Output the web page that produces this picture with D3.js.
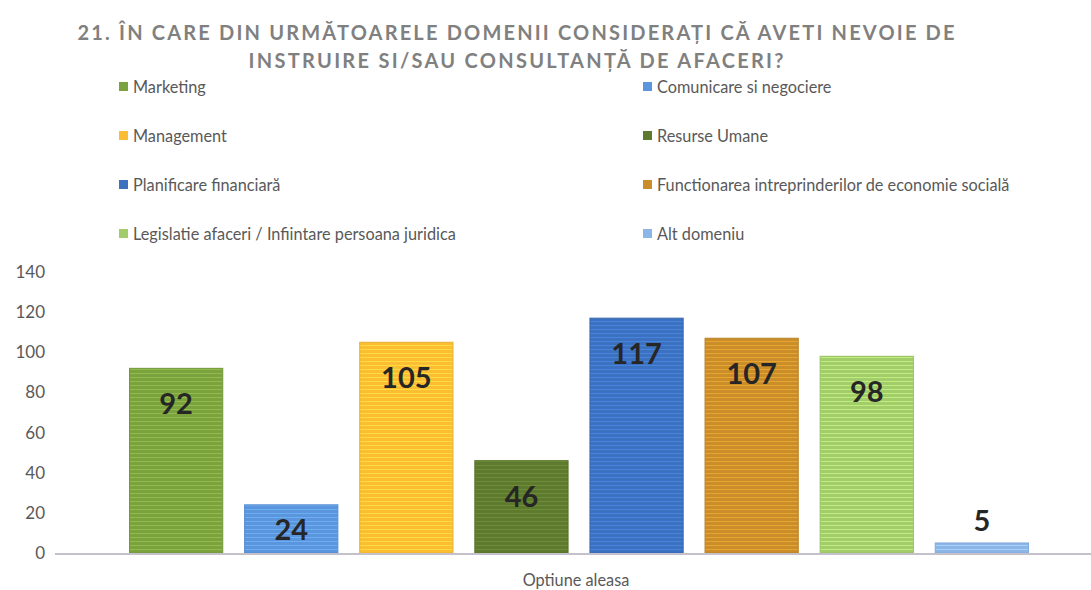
<!DOCTYPE html>
<html>
<head>
<meta charset="utf-8">
<script src="https://cdn.jsdelivr.net/npm/d3@7"></script>
<style>
  body { margin: 0; background: #fff; }
  #chart { width: 1091px; height: 590px; }
  text { font-family: Lato, "Noto Sans", sans-serif; }
</style>
</head>
<body>
<div id="chart"></div>
<script>
// Question 21 - training / consulting needs
const titleLines = [
    "21. ÎN CARE DIN URMĂTOARELE DOMENII CONSIDERAȚI CĂ AVETI NEVOIE DE",
    "INSTRUIRE SI/SAU CONSULTANȚĂ DE AFACERI?"
];
const categories = [
    "Marketing",
    "Comunicare si negociere",
    "Management",
    "Resurse Umane",
    "Planificare financiară",
    "Functionarea intreprinderilor de economie socială",
    "Legislatie afaceri / Infiintare persoana juridica",
    "Alt domeniu"
];
const values = [92, 24, 105, 46, 117, 107, 98, 5];
const colors = ["#7ba23f", "#5b95dc", "#fbbd34", "#5e7a2e", "#3c71bf", "#c98d2a", "#a3cd6a", "#8cb6e8"];
const yTicks = [0, 20, 40, 60, 80, 100, 120, 140];
const xTitle = "Optiune aleasa";

(() => {
    const W = 1091, H = 590;
    const svg = d3.select("#chart").append("svg").attr("width", W).attr("height", H);

    // striped fills, like the scanned original
    const defs = svg.append("defs");
    colors.forEach((c, i) => {
        const p = defs.append("pattern").attr("id", "pat" + i)
            .attr("patternUnits", "userSpaceOnUse").attr("width", 8).attr("height", 4);
        p.append("rect").attr("width", 8).attr("height", 4).attr("fill", c);
        p.append("rect").attr("y", 1).attr("width", 8).attr("height", 1)
            .attr("fill", d3.color(c).brighter(0.6)).attr("opacity", 0.7);
    });

    // title
    const tw = [877, 535];
    svg.append("g").selectAll("text")
        .data(titleLines)
        .join("text")
        .attr("x", 516)
        .attr("y", (d, i) => 40 + i * 28)
        .attr("text-anchor", "middle")
        .attr("textLength", (d, i) => tw[i])
        .attr("lengthAdjust", "spacing")
        .attr("font-size", 20)
        .attr("font-weight", "bold")
        .attr("fill", "#808080")
        .text(d => d);

    // legend, two columns
    const leg = svg.append("g").selectAll("g")
        .data(categories)
        .join("g")
        .attr("transform", (d, i) => `translate(${i % 2 ? 643 : 119},${87 + Math.floor(i / 2) * 49})`);
    leg.append("rect").attr("x", 0).attr("y", -5).attr("width", 9).attr("height", 9)
        .attr("fill", (d, i) => colors[i]);
    leg.append("text").attr("x", 14).attr("y", 5.5)
        .attr("font-size", 16.3).attr("fill", "#595959").text(d => d);

    const x = d3.scaleBand().domain(categories).range([118, 1040]).paddingInner(0.19).paddingOuter(0.1);
    const y = d3.scaleLinear().domain([0, 140]).range([553, 272]);

    // y axis labels only
    const ya = svg.append("g").attr("transform", "translate(45,0)")
        .call(d3.axisLeft(y).tickValues(yTicks).tickSize(0).tickPadding(0));
    ya.select(".domain").remove();
    ya.selectAll("text").attr("font-size", 17).attr("fill", "#595959")
        .attr("font-family", "Lato, 'Noto Sans', sans-serif");

    // bars
    svg.append("g").selectAll("rect")
        .data(values)
        .join("rect")
        .attr("x", (d, i) => x(categories[i]))
        .attr("y", d => y(d))
        .attr("width", x.bandwidth())
        .attr("height", d => y(0) - y(d))
        .attr("fill", (d, i) => `url(#pat${i})`)
        .attr("stroke", (d, i) => d3.color(colors[i]).darker(0.2))
        .attr("stroke-width", 1);

    // baseline
    svg.append("line").attr("x1", 55).attr("x2", W).attr("y1", y(0) + 1).attr("y2", y(0) + 1)
        .attr("stroke", "#c4c0cc").attr("stroke-width", 2);

    // data labels
    svg.append("g").selectAll("text")
        .data(values)
        .join("text")
        .attr("x", (d, i) => x(categories[i]) + x.bandwidth() / 2)
        .attr("y", d => {
            const top = y(d), hgt = y(0) - y(d);
            if (hgt < 30) return top - 12;
            return Math.min(top + 46, (top + y(0)) / 2 + 11);
        })
        .attr("text-anchor", "middle")
        .attr("font-size", 29)
        .attr("font-weight", "bold")
        .attr("fill", "#262626")
        .text(d => d);

    svg.append("text").attr("x", 576).attr("y", 586).attr("text-anchor", "middle")
        .attr("font-size", 16.3).attr("fill", "#595959").text(xTitle);
})();
</script>
</body>
</html>
